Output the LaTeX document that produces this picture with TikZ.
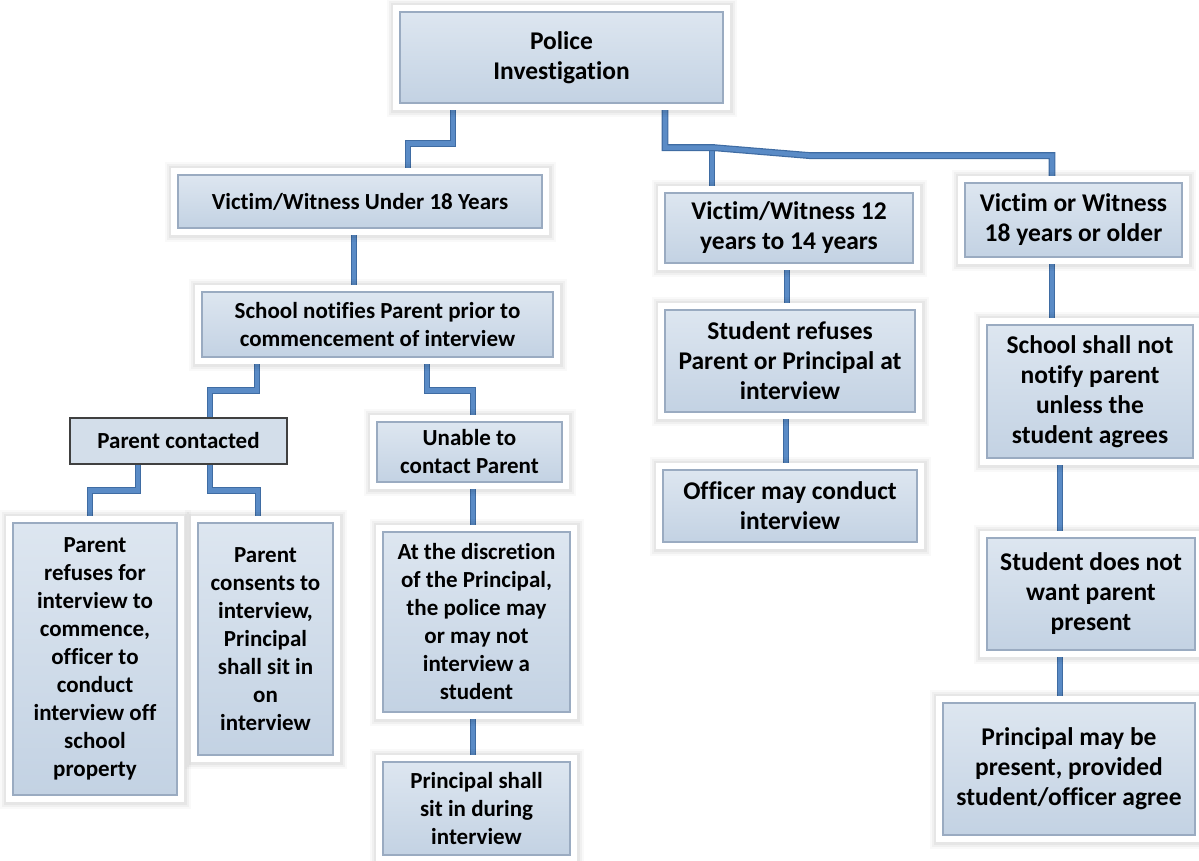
\documentclass[tikz,border=0pt]{standalone}
\usepackage{fontspec}
\setmainfont{Carlito}[Ligatures=CommonOff]
\usetikzlibrary{backgrounds}
\definecolor{boxtop}{HTML}{DDE6F0}
\definecolor{boxbot}{HTML}{C3D2E3}
\definecolor{boxedge}{HTML}{9AABC1}
\definecolor{boxflat}{HTML}{D3DEEA}
\definecolor{connfill}{HTML}{5A8BC6}
\definecolor{connedge}{HTML}{3F6CA3}
\tikzset{
  box/.style={rectangle, top color=boxtop, bottom color=boxbot, draw=boxedge, line width=1.2pt,
    preaction={draw=black, draw opacity=0.025, line width=27pt},
    preaction={draw=black, draw opacity=0.035, line width=23pt},
    preaction={draw=black, draw opacity=0.045, line width=19pt},
    preaction={draw=white, line width=14pt},
    align=center, inner sep=2pt},
  plainbox/.style={rectangle, fill=boxflat, draw=black!75, line width=1.2pt, align=center},
  wh/.style 2 args={minimum width=#1pt, minimum height=#2pt},
  bigtext/.style={font=\bfseries\fontsize{25.5}{30}\selectfont},
  conn/.style={draw=connedge, double=connfill, double distance=4.5pt, line width=1.2pt},
  every node/.style={font=\bfseries\fontsize{23}{28}\selectfont}
}
\begin{document}
\begin{tikzpicture}[x=1pt,y=-1pt]
 \useasboundingbox (0,0) rectangle (1199,860);
 \node[box, bigtext, wh={323}{91}] (police) at (561.5,57.5) {Police\\Investigation};
 \node[box, wh={364}{53}] (under18) at (360,201.5) {Victim/Witness Under 18 Years};
 \node[box, bigtext, wh={248}{70}] (v12) at (789,228) {Victim/Witness 12\\years to 14 years};
 \node[box, bigtext, wh={217}{74}] (v18) at (1073.5,220) {Victim or Witness\\18 years or older};
 \node[box, wh={351}{65}] (notify) at (377.5,324.5) {School notifies Parent prior to\\commencement of interview};
 \node[box, bigtext, wh={250}{102}] (srefuses) at (790,361) {Student refuses\\Parent or Principal at\\interview};
 \node[box, bigtext, wh={254}{72}] (officer) at (790,506) {Officer may conduct\\interview};
 \node[box, bigtext, wh={206}{133}] (nonotify) at (1090,391.5) {School shall not\\notify parent\\unless the\\student agrees};
 \node[plainbox, wh={217}{46}] (contacted) at (178.5,441) {Parent contacted};
 \node[box, wh={185}{60}] (unable) at (469.5,452) {Unable to\\contact Parent};
 \node[box, wh={187}{180}] (discretion) at (476.5,622) {At the discretion\\of the Principal,\\the police may\\or may not\\interview a\\student};
 \node[box, wh={187}{93}] (sitin) at (476.5,808.5) {Principal shall\\sit in during\\interview};
 \node[box, wh={164}{272}] (prefuses) at (95,659) {Parent\\refuses for\\interview to\\commence,\\officer to\\conduct\\interview off\\school\\property};
 \node[box, wh={135}{232}] (consents) at (265.5,639) {Parent\\consents to\\interview,\\Principal\\shall sit in\\on\\interview};
 \node[box, bigtext, wh={208}{112}] (notwant) at (1091,594) {Student does not\\want parent\\present};
 \node[box, bigtext, wh={252}{132}] (maybe) at (1069,769) {Principal may be\\present, provided\\student/officer agree};

 \begin{scope}[on background layer]
 \draw[conn] ([xshift=-108.5pt]police.south) -- ++(0,40) -| ([xshift=48pt]under18.north);
 \draw[conn] ([xshift=103.5pt]police.south) -- ++(0,44) -| ([xshift=-77pt]v12.north);
 \draw[conn] ([xshift=103.5pt]police.south) -- ++(0,44) -- ++(48,0) -- ++(97,8) -| ([xshift=-21.5pt]v18.north);
 \draw[conn] ([xshift=-6pt]under18.south) -- ([xshift=-6pt]under18.south |- notify.north);
 \draw[conn] ([xshift=-120.5pt]notify.south) -- ++(0,33) -| ([xshift=31.5pt]contacted.north);
 \draw[conn] ([xshift=49.5pt]notify.south) -- ++(0,33) -| ([xshift=3.5pt]unable.north);
 \draw[conn] ([xshift=-40.5pt]contacted.south) -- ++(0,26) -| ([xshift=-5pt]prefuses.north);
 \draw[conn] ([xshift=31.5pt]contacted.south) -- ++(0,26) -| ([xshift=-7.5pt]consents.north);
 \draw[conn] ([xshift=3.5pt]unable.south) -- ([xshift=3.5pt]unable.south |- discretion.north);
 \draw[conn] ([xshift=-3.5pt]discretion.south) -- ([xshift=-3.5pt]discretion.south |- sitin.north);
 \draw[conn] ([xshift=-2pt]v12.south) -- ([xshift=-2pt]v12.south |- srefuses.north);
 \draw[conn] ([xshift=-4pt]srefuses.south) -- ([xshift=-4pt]srefuses.south |- officer.north);
 \draw[conn] ([xshift=-21.5pt]v18.south) -- ([xshift=-21.5pt]v18.south |- nonotify.north);
 \draw[conn] ([xshift=-30pt]nonotify.south) -- ([xshift=-30pt]nonotify.south |- notwant.north);
 \draw[conn] ([xshift=-31pt]notwant.south) -- ([xshift=-31pt]notwant.south |- maybe.north);
 \end{scope}
\end{tikzpicture}
\end{document}
